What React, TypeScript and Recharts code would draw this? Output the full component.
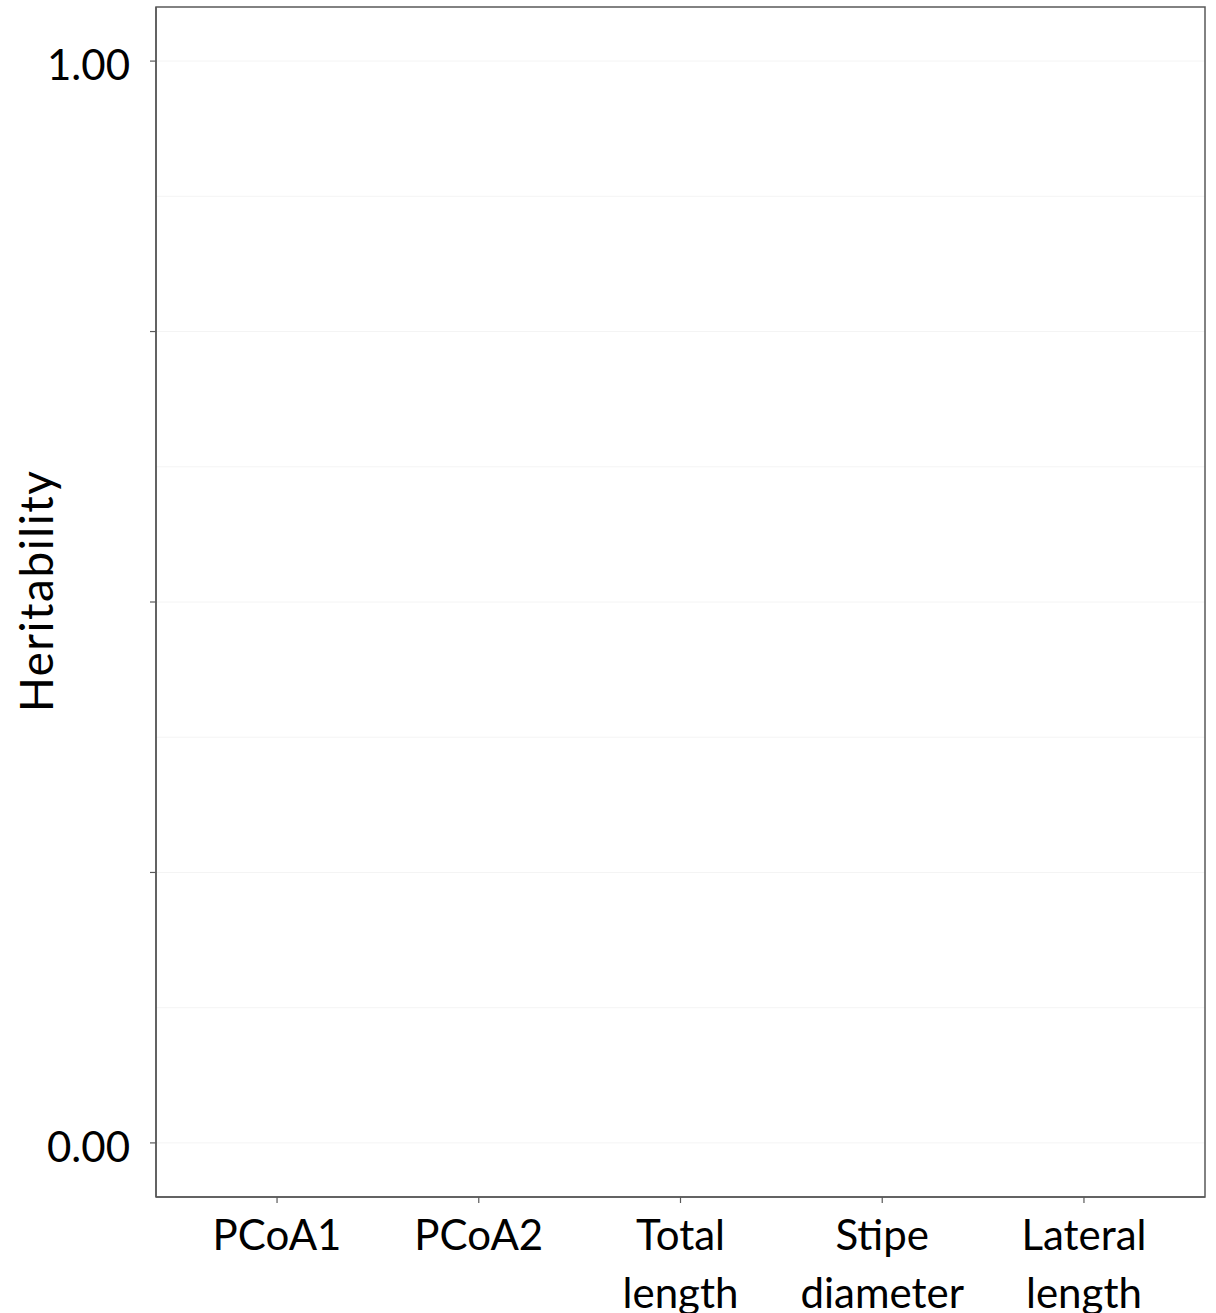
import { CartesianGrid, ReferenceArea, Scatter, ScatterChart, XAxis, YAxis } from "recharts";

const traits = ["PCoA1", "PCoA2", "Total length", "Stipe diameter", "Lateral length"];
const heritability: (number | null)[] = [null, null, null, null, null];
const yTicks = [0, 0.25, 0.5, 0.75, 1];
const yTickLabels = ["0.00", "", "", "", "1.00"];
const gridTicks = [0, 0.125, 0.25, 0.375, 0.5, 0.625, 0.75, 0.875, 1];

const FONT = "Lato, 'Open Sans', sans-serif";
const AXIS = "#595959";

const points = traits
  .map((t, i) => ({ x: i + 1, trait: t, h: heritability[i] }))
  .filter((p) => p.h !== null);

function XTick({ x, y, payload }: any) {
  const label = traits[payload.value - 1] ?? "";
  const lines = label.split(" ");
  return (
    <text x={x} y={y} textAnchor="middle" fill="#000" fontFamily={FONT} fontSize={42}>
      {lines.map((l, i) => (
        <tspan key={l} x={x} y={y + 45 + i * 58}>
          {l}
        </tspan>
      ))}
    </text>
  );
}

function YTick({ x, y, payload }: any) {
  const idx = yTicks.indexOf(payload.value);
  const label = idx >= 0 ? yTickLabels[idx] : "";
  return (
    <text x={x - 18} y={y + 19} textAnchor="end" fill="#000" fontFamily={FONT} fontSize={42}>
      {label}
    </text>
  );
}

function YLabel({ viewBox }: any) {
  const cy = viewBox.y + viewBox.height / 2 - 11;
  const x = 53;
  return (
    <text
      x={x}
      y={cy}
      transform={`rotate(-90, ${x}, ${cy})`}
      textAnchor="middle"
      fill="#000"
      fontFamily={FONT}
      fontSize={46}
      letterSpacing={1.5}
    >
      Heritability
    </text>
  );
}

export default function App() {
  return (
    <div style={{ position: "absolute", left: 0, top: 0, background: "#fff" }}>
      <ScatterChart width={1216} height={1313} margin={{ top: 7, right: 11, left: 0, bottom: 0 }}>
        <CartesianGrid
          stroke="#f4f4f4"
          vertical={false}
          horizontalValues={gridTicks}
        />
        <XAxis
          type="number"
          dataKey="x"
          domain={[0.4, 5.6]}
          ticks={[1, 2, 3, 4, 5]}
          allowDataOverflow
          height={116}
          axisLine={{ stroke: AXIS, strokeWidth: 1.5 }}
          tickLine={{ stroke: AXIS, strokeWidth: 1.2 }}
          tickSize={6}
          tick={<XTick />}
          interval={0}
        />
        <YAxis
          type="number"
          dataKey="h"
          domain={[-0.05, 1.05]}
          ticks={yTicks}
          allowDataOverflow
          width={156}
          axisLine={{ stroke: AXIS, strokeWidth: 1.5 }}
          tickLine={{ stroke: AXIS, strokeWidth: 1.2 }}
          tickSize={6}
          tick={<YTick />}
          interval={0}
          label={<YLabel />}
        />
        <ReferenceArea
          x1={0.4}
          x2={5.6}
          y1={-0.05}
          y2={1.05}
          fill="none"
          stroke={AXIS}
          strokeWidth={1.5}
          ifOverflow="visible"
        />
        <Scatter data={points} fill="#000" isAnimationActive={false} />
      </ScatterChart>
    </div>
  );
}
